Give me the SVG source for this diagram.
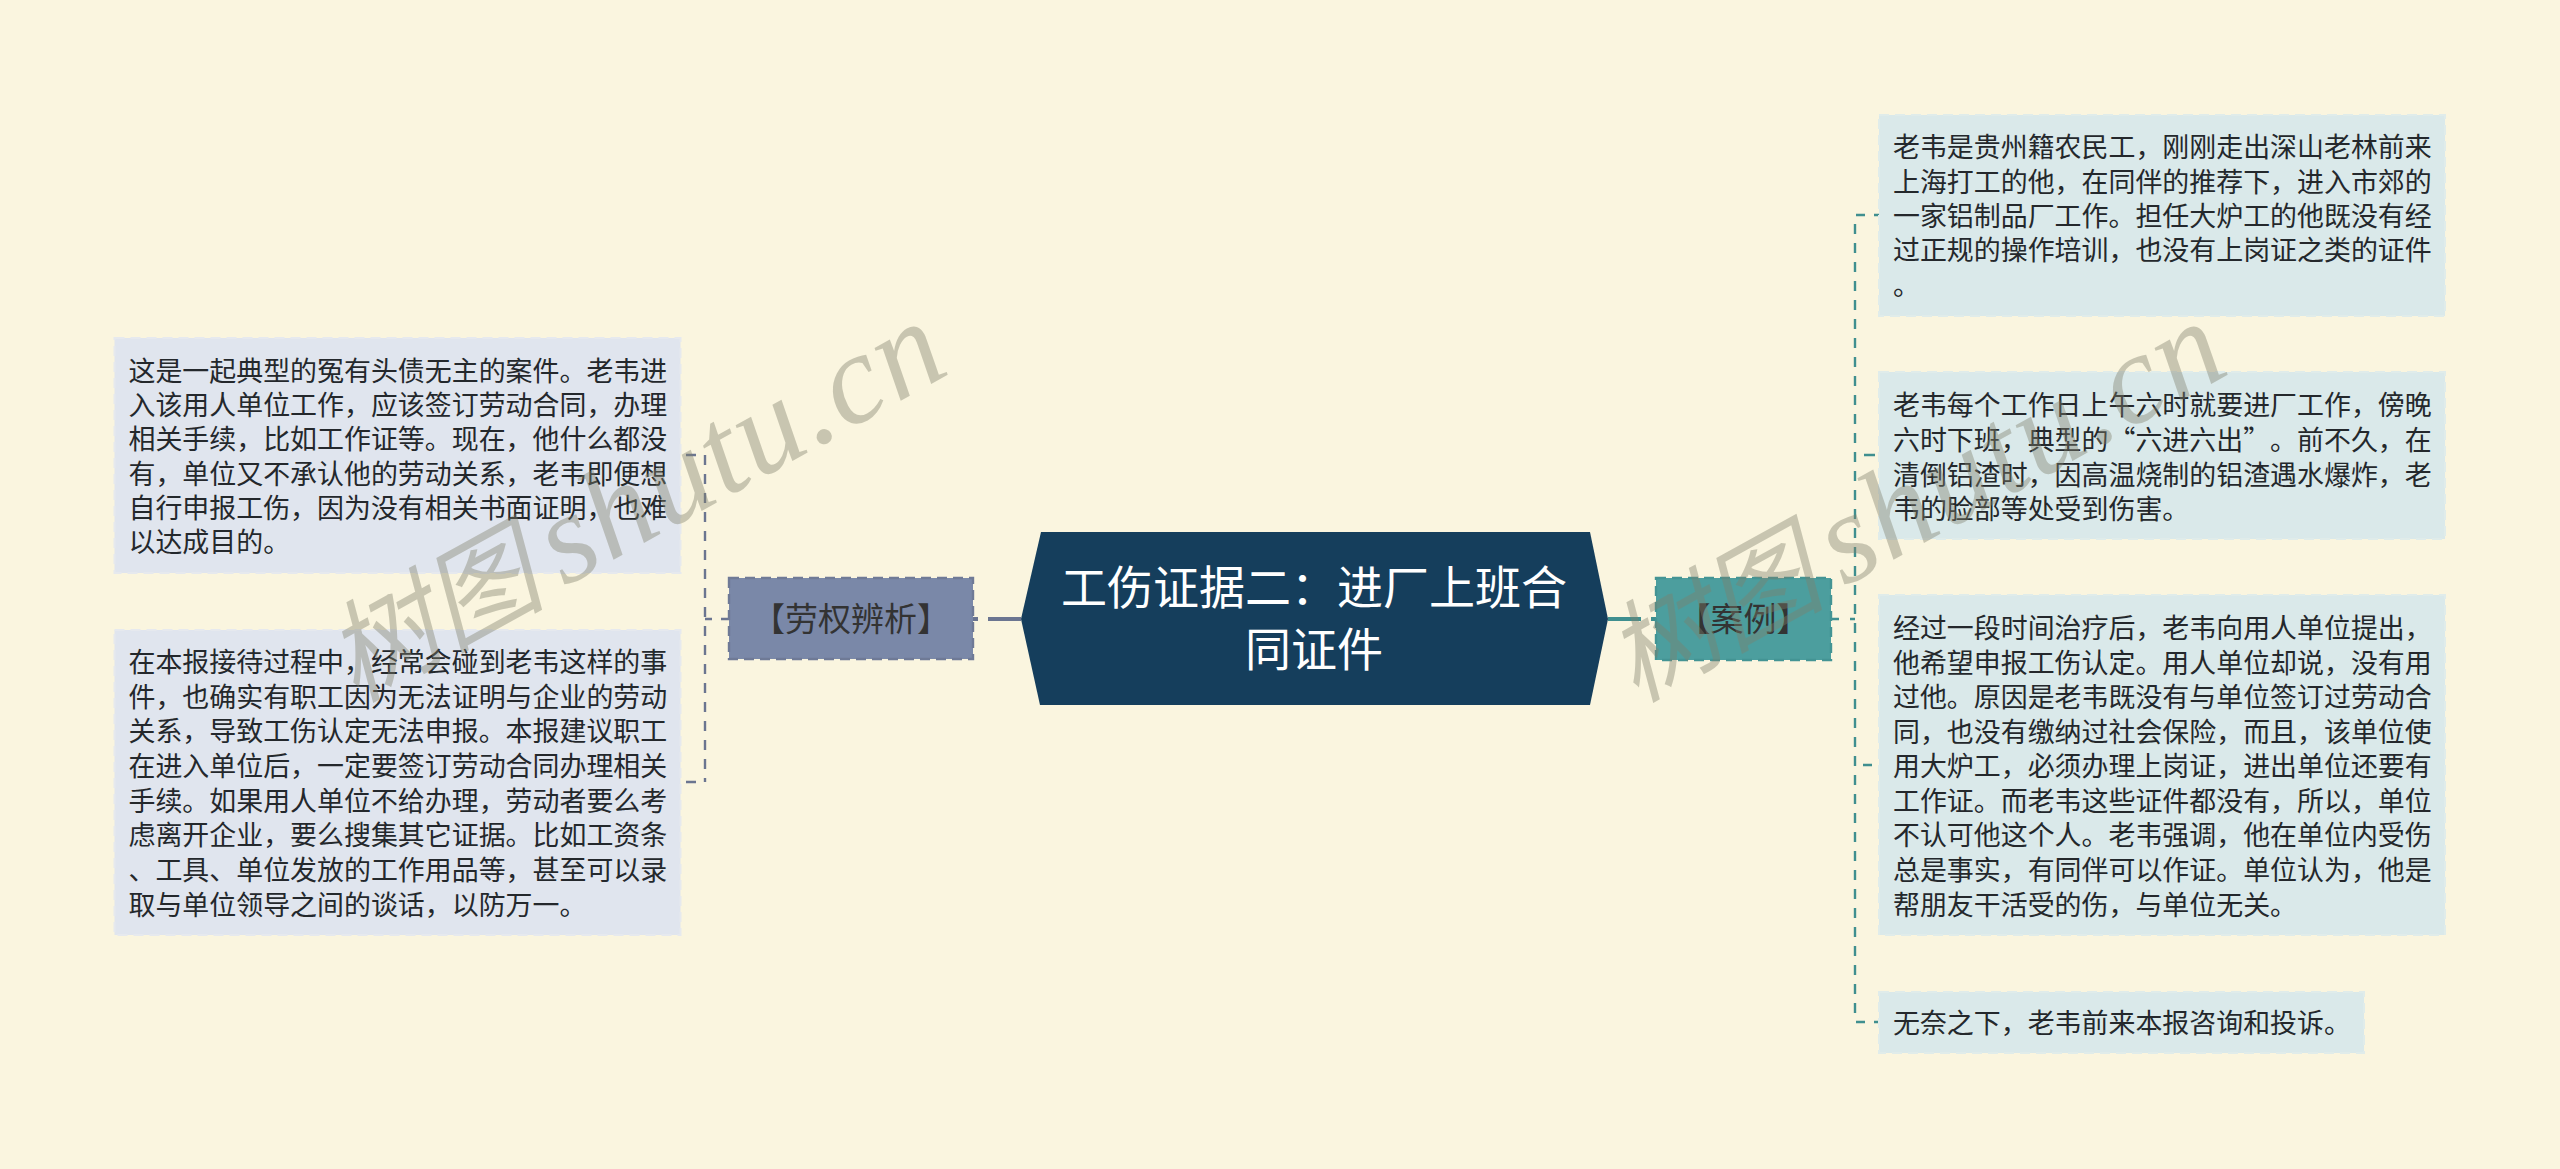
<svg xmlns="http://www.w3.org/2000/svg" width="2560" height="1169" viewBox="0 0 2560 1169">
<style>
text{font-family:"Noto Sans CJK SC","Noto Sans",sans-serif;text-spacing-trim:space-all;font-feature-settings:"chws" 0,"palt" 0,"kern" 0}
.lf{font-size:26.95px;fill:#24282c}
.ll{fill:#e0e5ee;stroke:#e6e9ee;stroke-width:2;stroke-dasharray:10 6}
.lr{fill:#dae9ea;stroke:#e0ecea;stroke-width:2;stroke-dasharray:10 6}
.cg{fill:none;stroke:#6b7590;stroke-width:2.4}
.ct{fill:none;stroke:#3f8f8f;stroke-width:2.4}
.d{stroke-dasharray:10 9}
.br{font-size:33px;fill:#333;text-anchor:middle}
.wm1{font-family:"Liberation Serif",serif;font-style:italic;font-size:128px;letter-spacing:2px;fill:#80806c;opacity:.4}
.wm2{font-size:110px;font-style:italic;fill:#80806c;opacity:.4}
</style>
<rect width="2560" height="1169" fill="#faf5df"/>
<g id="connectors">
<path class="cg" style="stroke-width:4;stroke-dasharray:33 10" d="M1021 619H973"/>
<path class="ct" style="stroke-width:4;stroke-dasharray:33 10" d="M1608 619H1656"/>
<path class="cg d" d="M705 455V782"/>
<path class="cg" d="M686 455H696M686 782H696M705 619H712M721 619H729"/>
<path class="ct d" d="M1855 224V1016"/>
<path class="ct" d="M1856 215H1865M1874 215H1879M1864 455H1875M1863 765H1872M1856 1022H1865M1874 1022H1879M1831 619H1839M1850 619H1855"/>
</g>
<g id="root">
<polygon points="1021,619 1041,532 1590,532 1608,619 1590,705 1040,705" fill="#153e5c"/>
<text x="1314" y="604" font-size="46" fill="#fff" text-anchor="middle">工伤证据二：进厂上班合</text>
<text x="1314" y="666" font-size="46" fill="#fff" text-anchor="middle">同证件</text>
</g>
<g id="branch-left">
<rect x="729" y="578" width="244" height="81" fill="#7a88a8" stroke="#6f7a96" stroke-width="2.4" stroke-dasharray="10 6"/>
<text class="br" x="851" y="631">【劳权辨析】</text>
</g>
<g id="branch-right">
<rect x="1656" y="578" width="175" height="82" fill="#4c9e9e" stroke="#439494" stroke-width="2.4" stroke-dasharray="10 6"/>
<text class="br" x="1743.5" y="631">【案例】</text>
</g>
<g id="leaf-l1">
<rect class="ll" x="114.5" y="338" width="566" height="235"/>
<text class="lf" x="128.5" y="381">这是一起典型的冤有头债无主的案件。老韦进</text>
<text class="lf" x="128.5" y="415">入该用人单位工作，应该签订劳动合同，办理</text>
<text class="lf" x="128.5" y="449">相关手续，比如工作证等。现在，他什么都没</text>
<text class="lf" x="128.5" y="484">有，单位又不承认他的劳动关系，老韦即便想</text>
<text class="lf" x="128.5" y="518">自行申报工伤，因为没有相关书面证明，也难</text>
<text class="lf" x="128.5" y="552">以达成目的。</text>
</g>
<g id="leaf-l2">
<rect class="ll" x="114.5" y="630" width="566" height="305"/>
<text class="lf" x="128.5" y="672">在本报接待过程中，经常会碰到老韦这样的事</text>
<text class="lf" x="128.5" y="707">件，也确实有职工因为无法证明与企业的劳动</text>
<text class="lf" x="128.5" y="741">关系，导致工伤认定无法申报。本报建议职工</text>
<text class="lf" x="128.5" y="776">在进入单位后，一定要签订劳动合同办理相关</text>
<text class="lf" x="128.5" y="811">手续。如果用人单位不给办理，劳动者要么考</text>
<text class="lf" x="128.5" y="845">虑离开企业，要么搜集其它证据。比如工资条</text>
<text class="lf" x="128.5" y="880">、工具、单位发放的工作用品等，甚至可以录</text>
<text class="lf" x="128.5" y="915">取与单位领导之间的谈话，以防万一。</text>
</g>
<g id="leaf-r1">
<rect class="lr" x="1879" y="115" width="566" height="201"/>
<text class="lf" x="1893" y="157">老韦是贵州籍农民工，刚刚走出深山老林前来</text>
<text class="lf" x="1893" y="192">上海打工的他，在同伴的推荐下，进入市郊的</text>
<text class="lf" x="1893" y="226">一家铝制品厂工作。担任大炉工的他既没有经</text>
<text class="lf" x="1893" y="260">过正规的操作培训，也没有上岗证之类的证件</text>
<text class="lf" x="1893" y="295">。</text>
</g>
<g id="leaf-r2">
<rect class="lr" x="1879" y="372" width="566" height="167"/>
<text class="lf" x="1893" y="415">老韦每个工作日上午六时就要进厂工作，傍晚</text>
<text class="lf" x="1893" y="450">六时下班，典型的“六进六出”。前不久，在</text>
<text class="lf" x="1893" y="485">清倒铝渣时，因高温烧制的铝渣遇水爆炸，老</text>
<text class="lf" x="1893" y="519">韦的脸部等处受到伤害。</text>
</g>
<g id="leaf-r3">
<rect class="lr" x="1879" y="595" width="566" height="340"/>
<text class="lf" x="1893" y="638">经过一段时间治疗后，老韦向用人单位提出，</text>
<text class="lf" x="1893" y="673">他希望申报工伤认定。用人单位却说，没有用</text>
<text class="lf" x="1893" y="707">过他。原因是老韦既没有与单位签订过劳动合</text>
<text class="lf" x="1893" y="742">同，也没有缴纳过社会保险，而且，该单位使</text>
<text class="lf" x="1893" y="776">用大炉工，必须办理上岗证，进出单位还要有</text>
<text class="lf" x="1893" y="811">工作证。而老韦这些证件都没有，所以，单位</text>
<text class="lf" x="1893" y="845">不认可他这个人。老韦强调，他在单位内受伤</text>
<text class="lf" x="1893" y="880">总是事实，有同伴可以作证。单位认为，他是</text>
<text class="lf" x="1893" y="915">帮朋友干活受的伤，与单位无关。</text>
</g>
<g id="leaf-r4">
<rect class="lr" x="1879" y="992" width="485" height="61"/>
<text class="lf" x="1893" y="1033">无奈之下，老韦前来本报咨询和投诉。</text>
</g>
<g id="watermark-left" transform="translate(350 706) rotate(-29)">
<text class="wm2" x="6" y="0">树图</text>
<text class="wm1" x="245" y="0">shutu.cn</text>
</g>
<g id="watermark-right" transform="translate(1630 706) rotate(-29)">
<text class="wm2" x="6" y="0">树图</text>
<text class="wm1" x="245" y="0">shutu.cn</text>
</g>
</svg>
